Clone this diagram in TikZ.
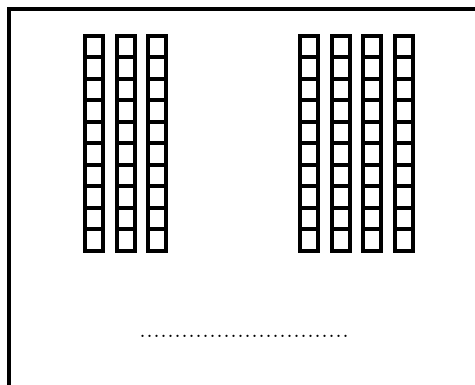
\documentclass[tikz,border=0pt]{standalone}

\begin{document}
\begin{tikzpicture}[x=1pt, y=-1pt, line join=miter]
  \useasboundingbox (0,0) rectangle (475,385);

  % Frame (open at the right and bottom)
  \draw[line width=4] (9,390) -- (9,9.5) -- (480,9.5);

  % Tens rods, left group
  \foreach \xa in {85,116.5,148}
    \foreach \ya in {0,...,9}
      \draw[line width=4] (\xa,36+21.5*\ya) rectangle ++(18,21.5);

  % Tens rods, right group
  \foreach \xa in {300,331.7,363.3,395}
    \foreach \ya in {0,...,9}
      \draw[line width=4] (\xa,36+21.5*\ya) rectangle ++(18,21.5);

  % Answer line
  \node[font=\fontsize{28}{33}\selectfont, inner sep=0pt, anchor=base west]
    (answer) at (139,338) {..............................};
\end{tikzpicture}
\end{document}
